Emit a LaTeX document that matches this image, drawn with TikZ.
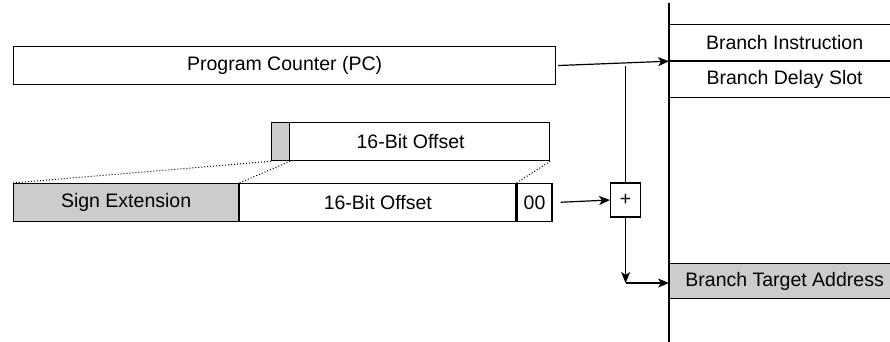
\documentclass[tikz,border=0pt]{standalone}
\usepackage{fontspec}
\setmainfont{Liberation Sans}
\usepackage{tikz}
\usetikzlibrary{positioning,arrows.meta}

\begin{document}
\begin{tikzpicture}[
  x=1pt,y=-1pt,
  every node/.style={font=\fontsize{19.5}{23}\selectfont},
  field/.style={
    draw,
    line width=1.2pt,
    inner sep=0pt,
    anchor=north west,
    minimum width=#1,
    minimum height=38pt,
    },
  memrow/.style={field=230pt,minimum height=36pt},
  shade/.style={fill=gray!40},
  arr/.style={line width=1.2pt,-{Stealth[length=11pt,width=9pt,inset=3pt]}},
  ]
  \clip (0,0) rectangle (890,341);

  % memory
  \coordinate (memtop) at (669,3);
  \coordinate (membot) at (669,345);
  \draw[line width=1.4pt] (memtop) -- (membot);
  \node[memrow] (bi) at (669,24) {Branch Instruction};
  \node[memrow,below=0pt of bi] (bds) {Branch Delay Slot};
  \node[memrow,minimum height=35pt,shade] (bta) at (669,263) {Branch Target Address};

  % program counter
  \node[field=542pt] (pc) at (13,46) {Program Counter (PC)};

  % offset fields
  \node[field=278pt] (off16) at (271,122) {16-Bit Offset};
  \node[field=18pt,shade,anchor=west] (sgnbit) at (off16.west) {};
  \node[field=225pt,shade] (sign) at (13,183) {Sign Extension};
  \node[field=276pt,right=0pt of sign] (low16) {16-Bit Offset};
  \node[field=35pt,right=0pt of low16] (zz) {00};
  \node[field=30pt,minimum height=34pt,anchor=west] (plus) at (610,200) {+};

  \draw[dotted,line width=1pt]
    (off16.south west) -- (sign.north west);
  \draw[dotted,line width=1pt]
    (sgnbit.south east) -- (sign.north east);
  \draw[dotted,line width=1pt]
    (off16.south east) -- (zz.north west);

  % datapath
  \draw[arr,shorten <=2pt] (pc.east) -- (bi.south west);
  \draw[line width=1.2pt] (plus.north) -- (plus.north |- pc.east);
  \draw[arr,shorten <=8pt] (zz.east) -- (plus.west);
  \coordinate (turn) at (plus.south |- 0,283);
  \draw[arr] (plus.south) -- (turn);
  \draw[arr] (turn) -- (turn -| bta.west);
\end{tikzpicture}
\end{document}
